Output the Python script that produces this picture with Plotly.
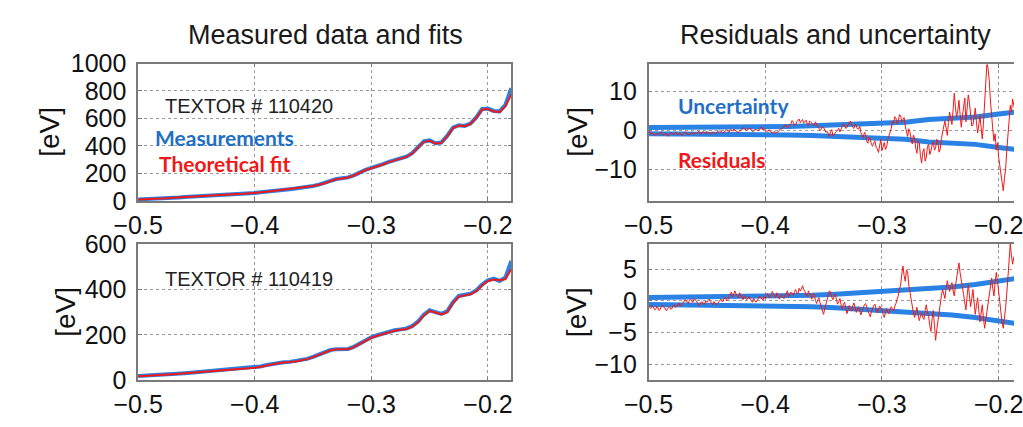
import numpy as np
import plotly.graph_objects as go

# ---------------- data ----------------
# Te profiles (x in m), 0.005 spacing
prof_x = [
    -0.500, -0.495, -0.490, -0.485, -0.480, -0.475, -0.470, -0.465, -0.460, -0.455,
    -0.450, -0.445, -0.440, -0.435, -0.430, -0.425, -0.420, -0.415, -0.410, -0.405,
    -0.400, -0.395, -0.390, -0.385, -0.380, -0.375, -0.370, -0.365, -0.360, -0.355,
    -0.350, -0.345, -0.340, -0.335, -0.330, -0.325, -0.320, -0.315, -0.310, -0.305,
    -0.300, -0.295, -0.290, -0.285, -0.280, -0.275, -0.270, -0.265, -0.260, -0.255,
    -0.250, -0.245, -0.240, -0.235, -0.230, -0.225, -0.220, -0.215, -0.210, -0.205,
    -0.200, -0.195, -0.190, -0.185, -0.180,
]

fit_110420 = [
    10, 11, 13, 15, 18, 20, 22, 25, 27, 29,
    31, 34, 37, 40, 42, 45, 48, 50, 52, 54,
    57, 62, 67, 72, 76, 80, 84, 89, 94, 100,
    108, 117, 128, 145, 158, 163, 170, 185, 208, 225,
    238, 250, 265, 282, 296, 308, 320, 345, 385, 430,
    438, 418, 422, 470, 530, 548, 543, 560, 605, 665,
    668, 650, 648, 690, 775,
]
meas_110420 = [
    11, 12, 13, 16, 18, 21, 23, 25, 28, 30,
    32, 35, 37, 40, 43, 45, 48, 51, 53, 55,
    58, 62, 68, 73, 77, 81, 85, 90, 95, 101,
    109, 118, 129, 146, 159, 164, 171, 186, 209, 226,
    240, 252, 267, 284, 298, 310, 322, 347, 388, 433,
    440, 420, 425, 473, 533, 551, 546, 563, 608, 669,
    672, 655, 652, 700, 820,
]

fit_110419 = [
    18, 19, 21, 22, 24, 25, 27, 29, 31, 33,
    34, 36, 38, 41, 43, 45, 47, 49, 50, 52,
    55, 60, 66, 71, 75, 78, 80, 83, 88, 93,
    102, 112, 122, 132, 136, 136, 137, 146, 160, 175,
    187, 196, 204, 212, 218, 222, 226, 236, 255, 285,
    305, 298, 290, 300, 340, 368, 373, 378, 392, 418,
    437, 443, 440, 445, 490,
]
meas_110419 = [
    19, 20, 21, 23, 24, 26, 28, 29, 31, 33,
    35, 37, 39, 41, 43, 46, 48, 49, 51, 53,
    56, 61, 67, 72, 76, 79, 81, 84, 89, 94,
    103, 113, 123, 133, 137, 137, 138, 147, 161, 176,
    189, 198, 206, 214, 220, 224, 228, 238, 258, 288,
    308, 300, 292, 303, 343, 371, 376, 381, 395, 421,
    440, 447, 437, 452, 525,
]

# fit residuals [eV], 0.001 spacing starting at x = -0.5
res_x0, res_dx = -0.5, 0.001
res_110420 = [
    -0.5, -0.2, -0.9, -0.6, -0.7, -1.2, -1.1, -0.7, -0.8, -1.0, -0.6, -0.3, -1.0, -1.3, -0.9, -0.6, -1.2, -1.4, -0.8, -0.5,
    -0.6, -1.0, -0.9, -0.4, -0.5, -1.1, -0.8, -0.6, -1.0, -1.2, -0.7, -0.3, -0.4, -0.9, -0.8, -1.1, -0.6, -0.4, -0.9, -0.7,
    -0.5, -0.8, -0.3, -0.1, -0.7, -0.9, -0.4, -0.2, -0.6, -0.8, -0.2, -0.5, -0.5, -0.9, -0.8, -0.4, -0.4, -0.7, -0.6, -0.2,
    -0.3, 0.0, -0.1, -0.6, -0.5, -0.2, 0.1, 0.3, -0.2, -0.4, 0.3, 0.0, -0.1, 0.4, 0.2, -0.1, -0.3, -0.5, 0.0, 0.2,
    0.3, 0.8, 0.6, 0.2, 0.1, 0.4, 0.5, 0.7, 0.2, -0.2, -0.1, 0.2, 0.4, 0.1, 0.0, 0.5, 0.6, 0.9, 0.2, 0.5,
    0.2, -0.1, -0.3, 0.2, 0.1, -0.4, -0.6, -0.3, -0.2, -0.7, -0.5, -0.1, 0.0, 0.5, 0.4, 0.8, 0.9, 1.5, 1.4, 0.8,
    1.0, 1.5, 1.8, 2.6, 2.2, 1.3, 1.6, 2.3, 2.6, 3.0, 2.1, 2.5, 2.9, 2.0, 2.3, 2.7, 1.7, 1.3, 2.5, 2.2,
    2.0, 1.6, 1.3, 2.3, 1.8, 1.2, 0.9, 0.1, 0.3, 1.1, 0.8, 0.2, -0.4, -0.1, -0.9, -1.5, -0.2, 0.3, -1.3, -1.0,
    -0.6, -0.2, 0.2, 0.6, -0.3, 0.4, 0.9, 1.8, 1.5, 0.6, 0.8, 1.6, 2.1, 2.5, 1.4, 0.9, 0.6, 1.7, 1.2, 0.5,
    0.4, 1.1, -0.5, -1.2, -1.8, -0.4, -0.9, -2.7, -3.2, -1.6, -2.1, -3.5, -4.0, -3.1, -2.6, -4.2, -4.6, -5.6, -3.3, -2.2,
    -5.1, -4.0, -3.0, -4.8, -4.2, -2.3, -1.5, -0.4, 0.6, 2.5, 1.9, 3.6, 3.2, 1.8, 2.4, 4.1, 3.9, 2.2, 2.8, 3.4,
    1.2, -0.4, -1.5, 0.5, -0.3, -2.2, -3.4, -1.1, -2.0, -4.5, -5.8, -2.6, -3.1, -6.4, -8.3, -5.5, -4.6, -7.8, -6.9, -4.0,
    -3.5, -6.1, -5.2, -3.6, -2.8, -5.0, -4.4, -2.2, -3.1, -5.5, -4.6, -2.0, -0.8, 1.2, 2.5, 0.3, -1.2, 2.1, 4.8, 3.0,
    1.6, 5.5, 9.6, 6.0, 3.4, 5.2, 7.8, 4.1, 0.9, 3.8, 6.1, 8.4, 2.3, 5.6, 9.2, 7.1, 4.0, 1.2, 1.5, 4.4,
    5.8, 2.2, -0.6, 1.5, 3.9, 0.8, -2.1, 1.9, 6.4, 12.0, 17.5, 15.8, 12.8, 7.6, 3.1, 0.4, -2.6, -0.8, -5.0, -3.1,
    -6.8, -9.0, -11.5, -13.9, -15.4, -12.2, -9.8, -5.0, -1.2, 2.8, 6.5, 4.9, 8.1, 6.6, 5.2, 7.9, 9.5, 7.4, 6.0, 8.2,
    7.0,
]
res_110419 = [
    -0.8, -1.1, -1.2, -0.7, -0.9, -1.3, -1.4, -0.9, -1.0, -1.5, -1.3, -0.8, -0.7, -1.0, -1.1, -1.5, -1.4, -1.0, -0.9, -1.3,
    -1.2, -0.8, -0.6, -1.0, -0.9, -0.5, -0.3, -0.8, -0.7, -0.4, -0.2, 0.2, 0.1, -0.2, -0.4, 0.1, 0.3, 0.0, -0.2, 0.4,
    0.2, -0.1, -0.3, -0.7, -0.6, -0.2, -0.1, -0.5, -0.5, 0.0, -0.2, 0.1, 0.3, -0.1, -0.4, -0.6, -0.1, -0.3, -0.6, -0.4,
    -0.2, 0.1, 0.3, -0.1, 0.0, 0.6, 0.5, 0.0, 0.2, 0.7, 1.1, 1.4, 0.6, 1.2, 1.6, 1.1, 0.9, 0.5, 1.3, 0.9,
    0.6, 0.2, 0.9, 0.5, 0.2, 0.4, 0.7, 0.3, 0.1, -0.2, 0.4, 0.0, -0.2, 0.1, 0.3, 0.8, 0.6, 0.3, 0.1, 0.7,
    0.4, 0.9, 1.2, 0.7, 0.5, 1.0, 1.5, 1.1, 0.8, 0.5, 1.3, 0.9, 0.3, 0.7, 1.0, 0.6, 0.4, 0.8, 1.1, 1.6,
    0.6, 1.0, 1.4, 1.2, 0.9, 1.5, 1.8, 1.3, 1.1, 2.0, 1.6, 1.9, 2.4, 1.8, 1.5, 0.9, 0.7, 1.6, 1.2, 0.6,
    0.3, 1.2, 1.0, 0.1, -0.4, 0.2, 0.5, -0.3, -0.8, -1.5, -2.1, -1.2, -0.6, 0.3, 0.9, 1.6, 1.4, 0.6, 0.2, 0.8,
    1.1, 0.2, -0.5, -0.1, 0.4, -0.6, -1.3, -0.5, -0.2, -1.1, -2.0, -1.4, -0.7, -1.2, -1.6, -0.8, -0.3, -1.0, -1.8, -1.3,
    -0.9, -1.6, -2.2, -1.5, -1.0, -0.6, -0.4, -1.1, -1.5, -2.0, -2.5, -1.7, -1.1, -0.7, -0.5, -1.2, -1.9, -1.4, -0.8, -1.1,
    -1.4, -2.1, -2.6, -1.8, -1.2, -1.7, -2.0, -1.3, -0.9, -1.3, -1.6, -0.8, -0.4, 0.3, 0.8, 1.9, 2.5, 4.2, 5.5, 4.0,
    3.1, 4.9, 4.6, 2.5, 1.2, 0.1, -0.8, -1.9, -2.6, -1.5, -1.0, -2.2, -3.1, -2.4, -1.8, -2.6, -2.9, -1.5, -0.6, -1.7,
    -2.4, -3.9, -4.8, -2.8, -1.5, -3.8, -6.2, -4.5, -3.0, -1.6, -0.5, 0.9, 1.8, 1.0, 0.4, 2.0, 3.2, 2.3, 1.5, 2.4,
    2.9, 1.6, 0.8, 2.4, 3.5, 4.9, 6.0, 4.4, 3.4, 2.0, 1.0, -0.3, -1.4, 0.8, 2.6, 0.9, -0.9, 0.4, 1.8, -0.3,
    -2.1, -0.7, 0.5, -1.5, -3.3, -1.9, -0.6, -2.7, -4.3, -3.0, -1.5, -0.1, 1.2, 2.6, 3.6, 2.0, 0.8, 2.9, 4.5, 3.2,
    1.6, -0.4, -2.2, -3.5, -4.3, -2.8, -1.0, 1.2, 3.5, 6.8, 9.0, 7.1, 5.8, 6.9, 7.2, 5.5, 4.0, 5.1, 6.5, 5.8,
    5.0,
]

# one-sigma uncertainty [eV], 0.02 spacing
sig_x = [-0.50, -0.48, -0.46, -0.44, -0.42, -0.40, -0.38, -0.36, -0.34,
         -0.32, -0.30, -0.28, -0.26, -0.24, -0.22, -0.20, -0.18]
sig_110420 = [0.8, 0.8, 0.85, 0.9, 0.95, 1.0, 1.1, 1.25, 1.45,
              1.7, 2.0, 2.2, 2.9, 3.2, 3.5, 4.3, 5.0]
sig_110419 = [0.55, 0.58, 0.6, 0.63, 0.66, 0.7, 0.8, 0.9, 1.05,
              1.25, 1.5, 1.7, 1.95, 2.2, 2.6, 3.2, 3.7]

x_ticks = [-0.5, -0.4, -0.3, -0.2]
x_ticktext = ["\u22120.5", "\u22120.4", "\u22120.3", "\u22120.2"]

res_x = np.round(res_x0 + res_dx * np.arange(len(res_110420)), 4)

# ---------------- styling ----------------
W, H = 1023, 427
FONT = "Liberation Sans, Arial, sans-serif"
LABEL_FONT = "Lato, sans-serif"
BLUE = "#2a82e4"
BLUE_TXT = "#1f6fc4"
RED = "#f01818"
BOX = "#7a7a7a"
GRID = "#9a9a9a"
PX_PER_UNIT = 1207  # horizontal pixels per metre on every panel


def px_x(p):
    return p / W


def px_y(p):
    return 1 - p / H


fig = go.Figure()

# left column: measured profile with the theoretical fit on top
for ax, meas, fit in [("", meas_110420, fit_110420), ("3", meas_110419, fit_110419)]:
    fig.add_trace(go.Scatter(x=prof_x, y=meas, mode="lines", line=dict(color=BLUE, width=4),
                             xaxis="x" + ax, yaxis="y" + ax, showlegend=False, hoverinfo="skip"))
    fig.add_trace(go.Scatter(x=prof_x, y=fit, mode="lines", line=dict(color=RED, width=2),
                             xaxis="x" + ax, yaxis="y" + ax, showlegend=False, hoverinfo="skip"))

# right column: +/- uncertainty envelope and the residuals
for ax, res, sig in [("2", res_110420, sig_110420), ("4", res_110419, sig_110419)]:
    sig = np.array(sig)
    for s in (sig, -sig):
        fig.add_trace(go.Scatter(x=sig_x, y=s, mode="lines", line=dict(color=BLUE, width=5),
                                 xaxis="x" + ax, yaxis="y" + ax, showlegend=False, hoverinfo="skip"))
    fig.add_trace(go.Scatter(x=res_x, y=res, mode="lines", line=dict(color=RED, width=1),
                             xaxis="x" + ax, yaxis="y" + ax, showlegend=False, hoverinfo="skip"))

# panel geometry in pixels (left, right, top, bottom)
panels = {
    "1": (117, 503, 53, 200),
    "2": (645, 1023, 54, 200),
    "3": (117, 503, 246, 392),
    "4": (645, 1023, 246, 392),
}
y_setup = {
    "1": dict(range=[0, 1000], tickvals=[0, 200, 400, 600, 800, 1000]),
    "2": dict(range=[-18, 17], tickvals=[-10, 0, 10], ticktext=["\u221210", "0", "10"]),
    "3": dict(range=[0, 600], tickvals=[0, 200, 400, 600]),
    "4": dict(range=[-12.5, 9], tickvals=[-10, -5, 0, 5], ticktext=["\u221210", "\u22125", "0", "5"]),
}

tick_font = dict(family=FONT, size=25, color="#111")
layout = dict(width=W, height=H, margin=dict(l=0, r=0, t=0, b=0),
              paper_bgcolor="white", plot_bgcolor="white", showlegend=False)

for k, (l, r, t, b) in panels.items():
    xs = "xaxis" if k == "1" else "xaxis" + k
    ys = "yaxis" if k == "1" else "yaxis" + k
    yanchor = "y" if k == "1" else "y" + k
    xanchor = "x" if k == "1" else "x" + k
    right_cut = k in ("2", "4")  # right-hand panels run past the page edge
    xr = [-0.5, -0.5 + (r - l) / PX_PER_UNIT] if right_cut else [-0.5, -0.18]
    layout[xs] = dict(domain=[px_x(l), px_x(r)], anchor=yanchor, range=xr,
                      tickvals=x_ticks, ticktext=x_ticktext, tickfont=tick_font,
                      ticklabeloverflow="allow",
                      showline=True, linecolor=BOX, linewidth=1.5, mirror="ticks",
                      ticks="inside", ticklen=4, tickcolor=BOX,
                      showgrid=True, gridcolor=GRID, griddash="dot", gridwidth=1,
                      zeroline=False, ticklabelstandoff=1)
    layout[ys] = dict(domain=[px_y(b), px_y(t)], anchor=xanchor, tickfont=tick_font,
                      showline=True, linecolor=BOX, linewidth=1.5,
                      mirror=False if right_cut else "ticks",
                      ticks="inside", ticklen=4, tickcolor=BOX,
                      showgrid=True, gridcolor=GRID, griddash="dot", gridwidth=1,
                      zeroline=False, ticklabelstandoff=5, **y_setup[k])

annotations = []


def note(text, xp, yp, size, color, bold=False, family=FONT, angle=0, xanchor="center"):
    if bold:
        text = "<b>" + text + "</b>"
    annotations.append(dict(text=text, x=px_x(xp), y=px_y(yp), xref="paper", yref="paper",
                            xanchor=xanchor, yanchor="middle", showarrow=False, textangle=angle,
                            font=dict(family=family, size=size, color=color)))


note("Measured data and fits", 311, 23, 27, "#1a1a1a")
note("Residuals and uncertainty", 838, 23, 27, "#1a1a1a")
note("[eV]", 26, 126, 28, "#111", angle=-90)
note("[eV]", 41, 319, 28, "#111", angle=-90)
note("[eV]", 572, 126, 28, "#111", angle=-90)
note("[eV]", 570, 319, 28, "#111", angle=-90)
note("TEXTOR # 110420", 143, 98, 20, "#222", xanchor="left")
note("TEXTOR # 110419", 143, 284, 20, "#222", xanchor="left")
note("Measurements", 132, 132, 21, BLUE_TXT, bold=True, family=LABEL_FONT, xanchor="left")
note("Theoretical fit", 137, 160, 21, RED, bold=True, family=LABEL_FONT, xanchor="left")
note("Uncertainty", 673, 98, 21, BLUE_TXT, bold=True, family=LABEL_FONT, xanchor="left")
note("Residuals", 673, 156, 21, RED, bold=True, family=LABEL_FONT, xanchor="left")

layout["annotations"] = annotations
fig.update_layout(**layout)
fig.write_html("out.html")
